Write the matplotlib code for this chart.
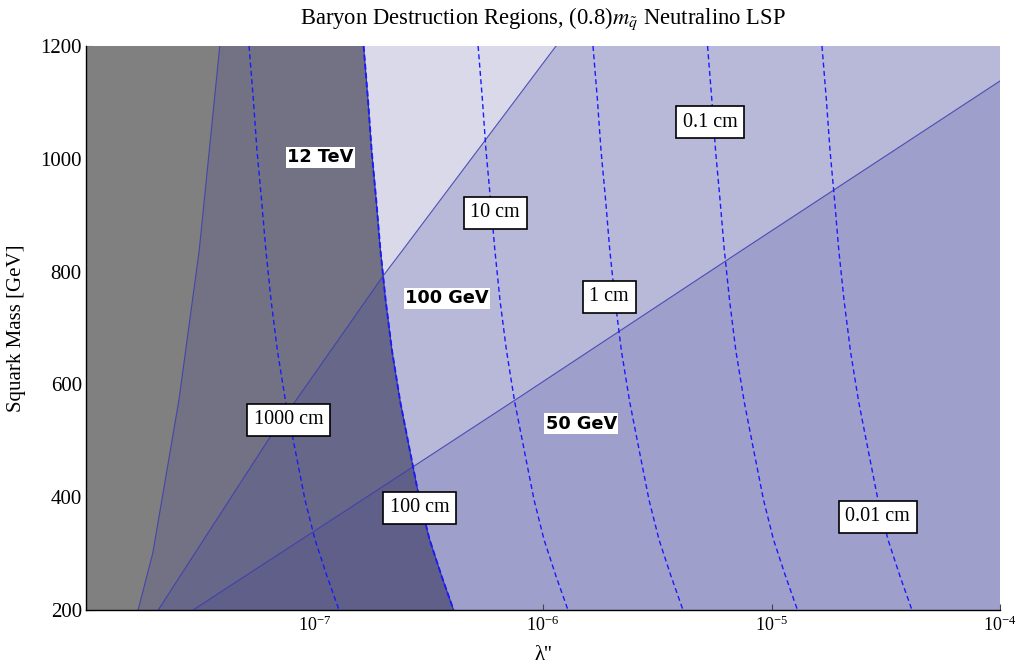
import matplotlib.pyplot as plt
from matplotlib.ticker import FixedLocator, MultipleLocator, LogFormatterSciNotation, NullLocator

plt.rcParams['font.family'] = ['Liberation Serif', 'DejaVu Serif']
plt.rcParams['mathtext.fontset'] = 'stix'

# squark masses [GeV] at which the decay-length contours were sampled
contour_mass = [1200, 1105, 1015, 925, 840, 750, 660, 570, 485, 395, 325, 260, 200]

# lambda'' along each decay-length contour (same mass points as above)
ctau_1000cm = [5.17e-8, 5.40e-8, 5.60e-8, 5.87e-8, 6.12e-8, 6.45e-8, 6.88e-8,
               7.47e-8, 8.22e-8, 9.09e-8, 1.005e-7, 1.134e-7, 1.280e-7]
ctau_100cm = [1.640e-7, 1.714e-7, 1.778e-7, 1.864e-7, 1.941e-7, 2.047e-7, 2.183e-7,
              2.371e-7, 2.607e-7, 2.884e-7, 3.189e-7, 3.600e-7, 4.061e-7]
ctau_10cm = [5.20e-7, 5.43e-7, 5.63e-7, 5.90e-7, 6.15e-7, 6.48e-7, 6.92e-7,
             7.51e-7, 8.26e-7, 9.14e-7, 1.010e-6, 1.140e-6, 1.286e-6]
ctau_1cm = [1.655e-6, 1.730e-6, 1.794e-6, 1.881e-6, 1.958e-6, 2.066e-6, 2.203e-6,
            2.393e-6, 2.631e-6, 2.911e-6, 3.218e-6, 3.633e-6, 4.098e-6]
ctau_01cm = [5.25e-6, 5.48e-6, 5.69e-6, 5.96e-6, 6.21e-6, 6.55e-6, 6.98e-6,
             7.59e-6, 8.34e-6, 9.23e-6, 1.020e-5, 1.152e-5, 1.299e-5]
ctau_001cm = [1.663e-5, 1.738e-5, 1.803e-5, 1.890e-5, 1.968e-5, 2.076e-5, 2.214e-5,
              2.405e-5, 2.644e-5, 2.925e-5, 3.234e-5, 3.650e-5, 4.118e-5]

contour_names = ['1000 cm', '100 cm', '10 cm', '1 cm', '0.1 cm', '0.01 cm']
contour_lams = [ctau_1000cm, ctau_100cm, ctau_10cm, ctau_1cm, ctau_01cm, ctau_001cm]
# where each contour label sits (lambda'', mass)
label_lam = [7.73e-8, 2.89e-7, 6.17e-7, 1.95e-6, 5.38e-6, 2.92e-5]
label_mass = [537, 381, 904, 755, 1065, 365]

# region boundaries, top to bottom
tev12_lam = [3.85e-8, 3.13e-8, 2.55e-8, 1.96e-8, 1.69e-8]
tev12_mass = [1200, 838, 572, 301, 200]
gev100_lam = [1.14e-6, 2.43e-7, 2.01e-7, 6.26e-8, 2.07e-8]
gev100_mass = [1200, 838, 794, 501, 200]
gev50_lam = [1.0e-4, 7.43e-6, 7.53e-7, 1.94e-7, 2.94e-8]
gev50_mass = [1138, 838, 572, 416, 200]

region_names = ['12 TeV', '100 GeV', '50 GeV']
region_lam = [1.06e-7, 3.80e-7, 1.47e-6]
region_mass = [1003, 753, 530]

xmin, xmax = 1e-8, 1e-4
ymin, ymax = 200, 1200

fig = plt.figure(figsize=(10.22, 6.66), dpi=100)
ax = fig.add_axes([86 / 1022, 56 / 666, 914 / 1022, 564 / 666])
ax.set_xscale('log')
ax.set_xlim(xmin, xmax)
ax.set_ylim(ymin, ymax)
ax.set_facecolor('#d9d9ea')

# light bands below the 100 GeV and 50 GeV lines
below_100 = (gev100_lam + [xmax, xmax], gev100_mass + [ymin, ymax])
below_50 = (gev50_lam + [xmax], gev50_mass + [ymin])
ax.fill(*below_100, color='#b8b8d8', lw=0, zorder=1)
ax.fill(*below_50, color='#9f9fcc', lw=0, zorder=1.1)

# darker region: long decay lengths, left of the 100 cm contour
dark = ax.fill([xmin, xmin] + ctau_100cm, [ymin, ymax] + contour_mass,
               color='#727284', lw=0, zorder=2)[0]
p = ax.fill(*below_100, color='#67678a', lw=0, zorder=2.1)[0]
p.set_clip_path(dark)
p = ax.fill(*below_50, color='#5f5f8a', lw=0, zorder=2.2)[0]
p.set_clip_path(dark)

# excluded grey corner
ax.fill([xmin, xmin] + tev12_lam, [ymin, ymax] + tev12_mass,
        color='#808080', lw=0, zorder=3)

line_kw = dict(color='#3c3cb0', lw=0.8, alpha=0.85, zorder=4)
ax.plot(tev12_lam, tev12_mass, **line_kw)
ax.plot(gev100_lam, gev100_mass, **line_kw)
ax.plot(gev50_lam, gev50_mass, **line_kw)

# decay length contours
for name, lam in zip(contour_names, contour_lams):
    if name == '100 cm':
        ax.plot(lam, contour_mass, color='#30309a', lw=0.8, zorder=4)
        ax.plot(lam, contour_mass, color='#1a1aff', lw=1.4,
                dashes=(3.0, 1.6), zorder=5)
    else:
        ax.plot(lam, contour_mass, color='#1a1aff', lw=1.0,
                dashes=(3.6, 2.4), zorder=5)

for name, x, y in zip(contour_names, label_lam, label_mass):
    ax.text(x, y, name, ha='center', va='center', fontsize=14.5, zorder=6,
            bbox=dict(boxstyle='square,pad=0.33', fc='white', ec='black', lw=1.2))

for name, x, y in zip(region_names, region_lam, region_mass):
    ax.text(x, y, name, ha='center', va='center', fontsize=12.8,
            fontweight='bold', family='DejaVu Sans', zorder=6,
            bbox=dict(boxstyle='square,pad=0.08', fc='white', ec='none'))

ax.xaxis.set_major_locator(FixedLocator([1e-7, 1e-6, 1e-5, 1e-4]))
ax.xaxis.set_major_formatter(LogFormatterSciNotation())
ax.xaxis.set_minor_locator(NullLocator())
ax.yaxis.set_major_locator(MultipleLocator(200))
ax.yaxis.set_minor_locator(MultipleLocator(50))
ax.tick_params(axis='x', which='major', direction='in', length=4, width=0.8,
               labelsize=13, pad=4, color='#444444')
ax.tick_params(axis='y', which='major', direction='in', length=5, width=0.8,
               labelsize=15, pad=3, color='#444444')
ax.tick_params(axis='y', which='minor', direction='in', length=3, width=0.6,
               color='#444444')

for side in ['top', 'right']:
    ax.spines[side].set_visible(False)
for side in ['left', 'bottom']:
    ax.spines[side].set_linewidth(1.0)
    ax.spines[side].set_zorder(7)

ax.set_title(r'Baryon Destruction Regions, (0.8)$m_{\tilde{q}}$ Neutralino LSP',
             fontsize=16.3, pad=16)
ax.set_xlabel("λ''", fontsize=15, labelpad=8)
ax.set_ylabel('Squark Mass [GeV]', fontsize=15, labelpad=10)

fig.savefig('out.png', dpi=100)
